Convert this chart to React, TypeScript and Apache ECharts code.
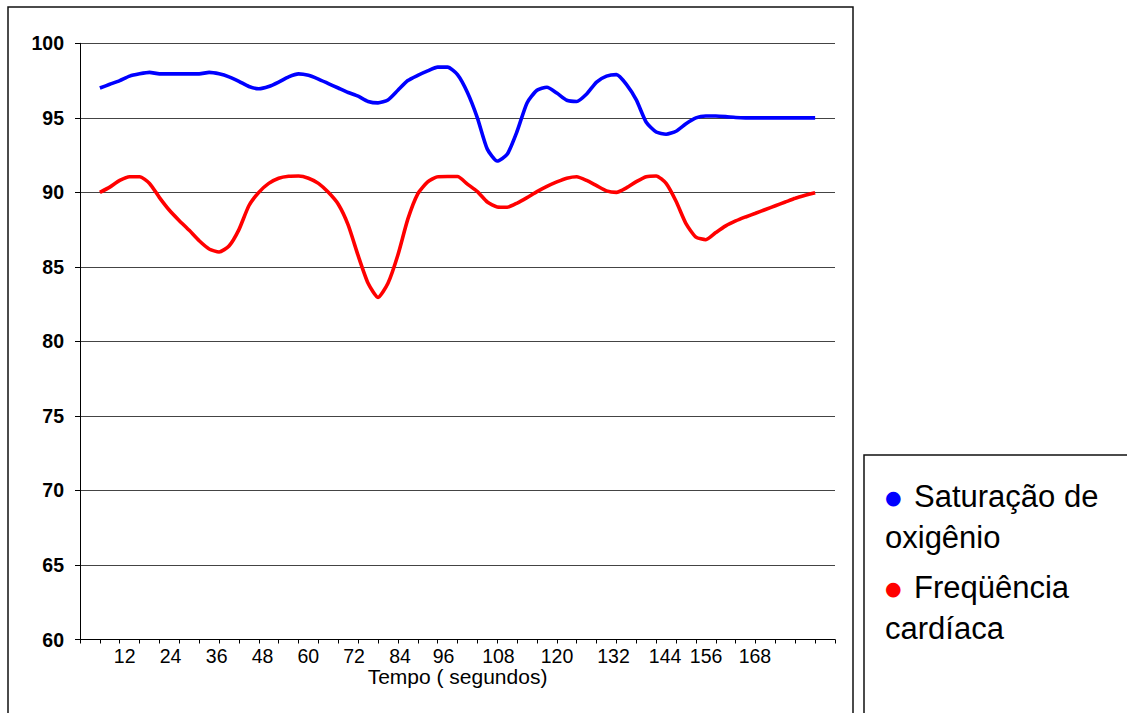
import React, { useEffect, useRef } from "react";
import * as echarts from "echarts";

// Oxygen saturation (%) and heart rate, sampled every half tick of the time axis
const oxygenSaturation = [
  97.0, 97.25, 97.5, 97.8, 97.95, 98.05, 97.95, 97.95, 97.95, 97.95, 97.95, 98.05, 97.95, 97.75, 97.45, 97.1,
  96.95, 97.1, 97.4, 97.75, 97.95, 97.85, 97.6, 97.3, 97.0, 96.7, 96.45, 96.1, 96.0, 96.2, 96.85, 97.5,
  97.85, 98.15, 98.4, 98.4, 97.9, 96.7, 95.0, 92.9, 92.1, 92.55, 94.1, 96.0, 96.85, 97.05, 96.66, 96.18,
  96.1, 96.6, 97.4, 97.8, 97.9, 97.25, 96.2, 94.7, 94.05, 93.9, 94.1, 94.6, 95.0, 95.12, 95.12, 95.08,
  95.02, 95.0, 95.0, 95.0, 95.0, 95.0, 95.0, 95.0, 95.0,
];

const heartRate = [
  90.0, 90.35, 90.8, 91.05, 91.05, 90.6, 89.65, 88.8, 88.1, 87.45, 86.75, 86.2, 86.0, 86.4, 87.5, 89.1,
  90.0, 90.6, 90.95, 91.08, 91.1, 90.95, 90.6, 90.0, 89.2, 87.8, 85.75, 83.9, 82.95, 83.9, 85.8, 88.2,
  89.9, 90.7, 91.05, 91.06, 91.06, 90.55, 90.05, 89.35, 89.02, 89.0, 89.28, 89.65, 90.05, 90.4, 90.7, 90.95,
  91.05, 90.8, 90.45, 90.1, 90.0, 90.3, 90.72, 91.05, 91.1, 90.6, 89.4, 87.9, 87.0, 86.82, 87.3, 87.75,
  88.08, 88.35, 88.6, 88.85, 89.1, 89.35, 89.6, 89.8, 89.98,
];

// Time axis: tick marks every unit, first sample on tick 1, two samples per tick
const axisTicks = 38;
const firstSample = 1;
const sampleStep = 0.5;

// Tick labels of the time axis and where they sit along it
const timeLabels = ["12", "24", "36", "48", "60", "72", "84", "96", "108", "120", "132", "144", "156", "168"];
const timeLabelAt = [2.25, 4.56, 6.88, 9.19, 11.49, 13.79, 16.11, 18.3, 21.06, 24.01, 26.85, 29.45, 31.51, 33.97];

const seriesNames = ["Saturação de oxigênio", "Freqüência cardíaca"];
const legendLines = [
  ["Saturação de", "oxigênio"],
  ["Freqüência", "cardíaca"],
];
const seriesColors = ["#0000ff", "#ff0000"];

const FONT = "'Liberation Sans', Arial, sans-serif";

const toPoints = (values: number[]) => values.map((v, i) => [firstSample + i * sampleStep, v]);

export default function App() {
  const ref = useRef<HTMLDivElement>(null);

  useEffect(() => {
    if (!ref.current) return;
    const chart = echarts.init(ref.current, undefined, { renderer: "svg" });

    chart.setOption({
      animation: false,
      backgroundColor: "#ffffff",
      textStyle: { fontFamily: FONT },
      grid: {
        left: 80,
        right: 292,
        top: 43.3,
        bottom: 73.5,
        containLabel: false,
        outerBoundsMode: "none",
      },
      xAxis: {
        type: "value",
        min: 0,
        max: axisTicks,
        interval: 1,
        name: "Tempo ( segundos)",
        nameLocation: "middle",
        nameGap: 29.5,
        nameMoveOverlap: false,
        nameTextStyle: { fontSize: 21, lineHeight: 15, color: "#000", fontFamily: FONT },
        axisLine: { show: true, onZero: false, lineStyle: { color: "#000", width: 1 } },
        axisTick: { show: true, length: 4, lineStyle: { color: "#000", width: 1 } },
        splitLine: { show: false },
        axisLabel: {
          customValues: timeLabelAt,
          margin: 9,
          fontSize: 19.5,
          lineHeight: 15,
          color: "#000",
          fontFamily: FONT,
          formatter: (val: number) => {
            let best = 0;
            timeLabelAt.forEach((p, i) => {
              if (Math.abs(p - val) < Math.abs(timeLabelAt[best] - val)) best = i;
            });
            return timeLabels[best];
          },
        },
      },
      yAxis: {
        type: "value",
        min: 60,
        max: 100,
        interval: 5,
        axisLine: { show: true, lineStyle: { color: "#000", width: 1 } },
        axisTick: { show: true, length: 5, lineStyle: { color: "#000", width: 1 } },
        splitLine: { show: true, lineStyle: { color: "#444", width: 1 } },
        axisLabel: {
          margin: 16,
          fontSize: 19.5,
          fontWeight: "bold",
          color: "#000",
          fontFamily: FONT,
        },
      },
      legend: {
        orient: "vertical",
        left: 875,
        top: 476,
        itemWidth: 0,
        itemHeight: 0,
        itemGap: 19,
        icon: "circle",
        selectedMode: false,
        data: seriesNames,
        formatter: (name: string) => {
          const i = seriesNames.indexOf(name);
          const [first, second] = legendLines[i];
          return `{d${i}|●}{t|${first}}\n{t|${second}}`;
        },
        textStyle: {
          color: "#000",
          fontFamily: FONT,
          fontSize: 31,
          rich: {
            d0: { color: seriesColors[0], fontSize: 19, width: 29, lineHeight: 41, fontFamily: "'DejaVu Sans', sans-serif" },
            d1: { color: seriesColors[1], fontSize: 19, width: 29, lineHeight: 41, fontFamily: "'DejaVu Sans', sans-serif" },
            t: { color: "#000", fontSize: 31, lineHeight: 41, fontFamily: FONT },
          },
        },
      },
      graphic: [
        {
          type: "rect",
          silent: true,
          shape: { x: 8, y: 7, width: 845, height: 740 },
          style: { fill: "none", stroke: "#111", lineWidth: 1.5 },
        },
        {
          type: "rect",
          silent: true,
          shape: { x: 864, y: 455, width: 300, height: 300 },
          style: { fill: "none", stroke: "#111", lineWidth: 1.5 },
        },
      ],
      series: [
        {
          name: seriesNames[0],
          type: "line",
          data: toPoints(oxygenSaturation),
          showSymbol: false,
          smooth: 0.2,
          color: seriesColors[0],
          lineStyle: { color: seriesColors[0], width: 3.6 },
        },
        {
          name: seriesNames[1],
          type: "line",
          data: toPoints(heartRate),
          showSymbol: false,
          smooth: 0.2,
          color: seriesColors[1],
          lineStyle: { color: seriesColors[1], width: 3.6 },
        },
      ],
    });

    return () => chart.dispose();
  }, []);

  return (
    <div
      ref={ref}
      style={{ position: "absolute", left: 0, top: 0, width: 1127, height: 713 }}
    />
  );
}
